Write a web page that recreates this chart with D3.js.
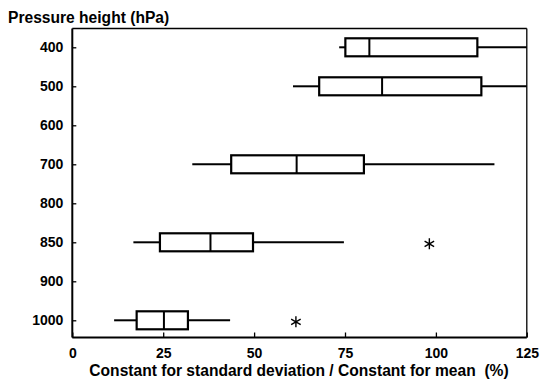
<!DOCTYPE html>
<html><head><meta charset="utf-8">
<script src="https://cdn.jsdelivr.net/npm/d3@7"></script>
<style>
body{margin:0;background:#fff;}
svg{display:block;font-family:"Liberation Sans",Arial,sans-serif;}
</style></head>
<body><svg id="c" width="540" height="382"></svg>
<script>
const levels = ["400","500","600","700","800","850","900","1000"];
const boxLevels = ["400","500","700","850","1000"];
const whiskerLow = [73.4, 60.7, 33.0, 16.8, 11.5];
const q1 = [75.1, 67.9, 43.7, 24.1, 17.7];
const median = [81.7, 85.2, 61.7, 38.0, 25.2];
const q3 = [111.4, 112.5, 80.2, 49.7, 31.8];
const whiskerHigh = [125, 125, 116.1, 74.7, 43.4];
const outlierLevels = ["850","1000"];
const outlierValues = [98.2, 61.5];
const xTicks = [0,25,50,75,100,125];

const svg = d3.select("#c");
const L=72.3, R=526.8, T=28.5, B=337.5;
const x = d3.scaleLinear().domain([0,125]).range([L,R]);
const y = d3.scalePoint().domain(levels).range([47.3,320.3]);
const bh = 18;

// frame
svg.append("line").attr("x1",L).attr("x2",R).attr("y1",T).attr("y2",T).attr("stroke","#000").attr("stroke-width",1.3);
svg.append("line").attr("x1",R).attr("x2",R).attr("y1",T).attr("y2",B).attr("stroke","#000").attr("stroke-width",1.3);

// axes
const ya = svg.append("g").attr("transform",`translate(${L},0)`)
  .call(d3.axisLeft(y).tickSize(-4).tickPadding(9));
ya.select(".domain").attr("stroke-width",2).attr("d",`M0,${T}V${B}`);
ya.selectAll(".tick line").attr("stroke-width",1.3);
ya.selectAll("text").attr("font-size",14).attr("font-weight","bold").attr("fill","#000");

const xa = svg.append("g").attr("transform",`translate(0,${B})`)
  .call(d3.axisBottom(x).tickValues(xTicks).tickSize(-5).tickPadding(10.3));
xa.select(".domain").attr("stroke-width",2).attr("d",`M${L},0H${R}`);
xa.selectAll(".tick line").attr("stroke-width",1.3);
xa.selectAll("text").attr("font-size",14).attr("font-weight","bold").attr("fill","#000");

// titles
svg.append("text").attr("x",8).attr("y",22.7).attr("font-size",15.6).attr("font-weight","bold").text("Pressure height (hPa)");
svg.append("text").attr("x",(86+512)/2).attr("y",375.5).attr("text-anchor","middle").attr("font-size",15.6).attr("font-weight","bold")
  .attr("xml:space","preserve").style("white-space","pre").text("Constant for standard deviation / Constant for mean  (%)");

// boxes
const data = boxLevels.map((l,i)=>({l,lo:whiskerLow[i],q1:q1[i],md:median[i],q3:q3[i],hi:whiskerHigh[i]}));
const g = svg.append("g");
data.forEach(d=>{
  const cy = y(d.l);
  g.append("line").attr("x1",x(d.lo)).attr("x2",x(d.q1)).attr("y1",cy).attr("y2",cy).attr("stroke","#000").attr("stroke-width",2);
  g.append("line").attr("x1",x(d.q3)).attr("x2",x(d.hi)).attr("y1",cy).attr("y2",cy).attr("stroke","#000").attr("stroke-width",2);
  g.append("rect").attr("x",x(d.q1)).attr("y",cy-bh/2).attr("width",x(d.q3)-x(d.q1)).attr("height",bh)
    .attr("fill","#fff").attr("stroke","#000").attr("stroke-width",2.2);
  g.append("line").attr("x1",x(d.md)).attr("x2",x(d.md)).attr("y1",cy-bh/2).attr("y2",cy+bh/2).attr("stroke","#000").attr("stroke-width",2);
});

// outliers
outlierLevels.forEach((l,i)=>{
  svg.append("path").attr("transform",`translate(${x(outlierValues[i])},${y(l)+1.5})`)
    .attr("d",d3.symbol(d3.symbolAsterisk,85)()).attr("stroke","#000").attr("stroke-width",1.4).attr("fill","none");
});
</script></body></html>
